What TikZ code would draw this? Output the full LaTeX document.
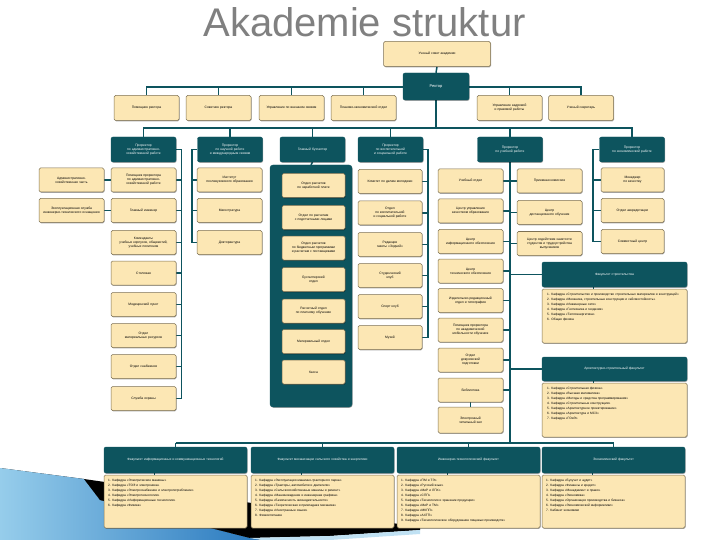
\documentclass[tikz,border=0pt]{standalone}
\usepackage{fontspec}
\setmainfont{Liberation Sans}
\usetikzlibrary{shadows}
\pgfdeclarelayer{deco}
\pgfdeclarelayer{background}
\pgfsetlayers{deco,background,main}
\definecolor{teal1}{RGB}{13,84,94}
\definecolor{ybox}{RGB}{252,231,180}
\definecolor{yborder}{RGB}{125,112,82}
\definecolor{ttl}{RGB}{128,128,128}
\definecolor{sw1}{RGB}{40,120,190}
\definecolor{sw2}{RGB}{150,205,235}
\begin{document}
\begin{tikzpicture}[x=1pt,y=-1pt,
  box/.style={draw=yborder, line width=0.5pt, fill=ybox, rounded corners=1.5pt, align=center,
    font=\fontsize{3.3}{4}\selectfont, inner sep=1pt,
    drop shadow={shadow xshift=0.6pt, shadow yshift=-0.8pt, opacity=0.35, fill=black}},
  wb/.style={box, minimum width=65pt, minimum height=24pt, text width=61pt},
  tb/.style={draw=teal1, fill=teal1, text=white, rounded corners=2pt, align=center,
    font=\fontsize{3.3}{4}\selectfont, inner sep=1pt,
    drop shadow={shadow xshift=0.6pt, shadow yshift=-0.8pt, opacity=0.35, fill=black}},
  pb/.style={tb, minimum width=65pt, minimum height=25pt, text width=61pt},
  fh/.style={tb, minimum width=143pt, minimum height=26pt, text width=136pt},
  fb/.style={box, minimum width=143pt, minimum height=54pt},
  lst/.style={anchor=north west, align=left, text width=134pt, font=\fontsize{3.2}{5}\selectfont, inner sep=0pt},
  ln/.style={draw=teal1, line width=1.5pt},
  tk/.style={draw=teal1, line width=1pt}
]
\useasboundingbox (0,0) rectangle (720,540);

% title
\node[text=ttl, font=\fontsize{40}{40}\selectfont] (title) at (364.5,22.5) {Akademie struktur};

% top
\node[box, minimum width=107pt, minimum height=25pt] (sovet) at (437,54) {Ученый совет академии};
\node[tb, minimum width=66pt, minimum height=27pt, font=\fontsize{4}{5}\selectfont] (rector) at (436,86.5) {Ректор};

% row 2
\node[wb, minimum height=25pt] (r1) at (146.5,108) {Помощник ректора};
\node[wb, minimum height=25pt] (r2) at (218.5,108) {Советник ректора};
\node[wb, minimum height=25pt] (r3) at (291.5,108) {Управление по внешним связям};
\node[wb, minimum height=25pt] (r4) at (363.5,108) {Планово-экономический отдел};
\node[wb, minimum height=25pt] (r5) at (509.5,108) {Управление кадровой\\и правовой работы};
\node[wb, minimum height=25pt] (r6) at (581,108) {Ученый секретарь};

% row 3 prorectors
\node[pb] (pA) at (143.5,149.5) {Проректор\\по административно-\\хозяйственной работе};
\node[pb] (pB) at (230,149.5) {Проректор\\по научной работе\\и международным связям};
\node[pb] (pC) at (312.5,149.5) {Главный бухгалтер};
\node[pb] (pD) at (390.5,149.5) {Проректор\\по воспитательной\\и социальной работе};
\node[pb] (pE) at (510,149.5) {Проректор\\по учебной работе};
\node[pb] (pF) at (632,149.5) {Проректор\\по экономической работе};

% column A
\node[wb] (l1) at (71.5,180) {Административно-\\хозяйственная часть};
\node[wb] (l2) at (71.5,210.5) {Эксплуатационная служба\\инженерно-технического оснащения};
\node[wb] (a1) at (143.5,180) {Помощник проректора\\по административно-\\хозяйственной работе};
\node[wb] (a2) at (143.5,210.5) {Главный инженер};
\node[wb] (a3) at (143.5,242.5) {Коменданты\\учебных корпусов, общежитий,\\учебных полигонов};
\node[wb] (a4) at (143.5,273) {Столовая};
\node[wb] (a5) at (143.5,304.5) {Медицинский пункт};
\node[wb] (a6) at (143.5,335.5) {Отдел\\материальных ресурсов};
\node[wb] (a7) at (143.5,366.5) {Отдел снабжения};
\node[wb] (a8) at (143.5,398.5) {Служба охраны};

% column B
\node[wb] (b1) at (229.5,180) {Институт\\послевузовского образования};
\node[wb] (b2) at (229.5,210.5) {Магистратура};
\node[wb] (b3) at (229.5,242.5) {Докторантура};

% column C container
\node[draw=teal1, fill=teal1, rounded corners=3pt, minimum width=82pt, minimum height=242pt, inner sep=0pt,
  drop shadow={shadow xshift=0.6pt, shadow yshift=-0.8pt, opacity=0.35, fill=black}] (cont) at (311,286) {};
\node[wb, minimum width=63pt, text width=60pt] (c1) at (313.5,185.5) {Отдел расчетов\\по заработной плате};
\node[wb, minimum width=63pt, text width=60pt] (c2) at (313.5,217.5) {Отдел по расчетам\\с подотчетными лицами};
\node[wb, minimum width=63pt, text width=60pt] (c3) at (313.5,248) {Отдел расчетов\\по бюджетным программам\\и расчетам с поставщиками};
\node[wb, minimum width=63pt, text width=60pt] (c4) at (313.5,279.5) {Бухгалтерский\\отдел};
\node[wb, minimum width=63pt, text width=60pt] (c5) at (313.5,311) {Расчетный отдел\\по платному обучению};
\node[wb, minimum width=63pt, text width=60pt] (c6) at (313.5,341.5) {Материальный отдел};
\node[wb, minimum width=63pt, text width=60pt] (c7) at (313.5,372) {Касса};

% column D
\node[wb, minimum width=64pt] (d1) at (390,181.5) {Комитет по делам молодежи};
\node[wb, minimum width=64pt] (d2) at (390,213) {Отдел\\по воспитательной\\и социальной работе};
\node[wb, minimum width=64pt] (d3) at (390,244.5) {Редакция\\газеты <<Зодчий>>};
\node[wb, minimum width=64pt] (d4) at (390,275.5) {Студенческий\\клуб};
\node[wb, minimum width=64pt] (d5) at (390,306.5) {Спорт клуб};
\node[wb, minimum width=64pt] (d6) at (390,337.5) {Музей};

% column E
\node[wb] (e1) at (470.5,181) {Учебный отдел};
\node[wb] (e2) at (470.5,211) {Центр управления\\качеством образования};
\node[wb] (e3) at (470.5,241.5) {Центр\\информационного обеспечения};
\node[wb] (e4) at (470.5,271) {Центр\\технического обеспечения};
\node[wb] (e5) at (470.5,300.5) {Издательско-редакционный\\отдел и типография};
\node[wb] (e6) at (470.5,330) {Помощник проректора\\по академической\\мобильности обучения};
\node[wb] (e7) at (470.5,360) {Отдел\\довузовской\\подготовки};
\node[wb] (e8) at (470.5,390) {Библиотека};
\node[wb, minimum height=26pt] (e9) at (470.5,420) {Электронный\\читальный зал};
\node[wb] (er1) at (549.5,181) {Приемная комиссия};
\node[wb] (er2) at (549.5,212.5) {Центр\\дистанционного обучения};
\node[wb] (er3) at (549.5,243.5) {Центр содействия занятости\\студентов и трудоустройства\\выпускников};

% column F
\node[wb, minimum width=63pt] (f1) at (632.5,180) {Менеджер\\по качеству};
\node[wb, minimum width=63pt] (f2) at (632.5,210.5) {Отдел аккредитации};
\node[wb, minimum width=63pt] (f3) at (632.5,241.5) {Совместный центр};

% right faculties
\node[fh, minimum width=145pt, minimum height=25pt] (fh1) at (614.5,274.5) {Факультет строительства};
\node[fb, minimum width=145pt] (fb1) at (614.5,316) {};
\node[lst] (fb1t) at (547,293) {1. Кафедра «Строительство и производство строительных материалов и конструкций»\\
2. Кафедра «Механика, строительные конструкции и сейсмостойкость»\\
3. Кафедра «Инженерные сети»\\
4. Кафедра «Геотехника и геодезия»\\
5. Кафедра «Теплоэнергетика»\\
6. Общая физика};
\node[fh, minimum width=145pt, minimum height=24pt] (fh2) at (614.5,369) {Архитектурно-строительный факультет};
\node[fb, minimum width=145pt] (fb2) at (614.5,410) {};
\node[lst] (fb2t) at (547,387) {1. Кафедра «Строительная физика»\\
2. Кафедра «Высшая математика»\\
3. Кафедра «Методы и средства программирования»\\
4. Кафедра «Строительные конструкции»\\
5. Кафедра «Архитектурное проектирование»\\
6. Кафедра «Архитектура и МСЗ»\\
7. Кафедра «ГОиЭ»};

% bottom faculties
\node[fh] (bh1) at (175.5,460) {Факультет информационных и коммуникационных технологий};
\node[fh] (bh2) at (322.5,460) {Факультет механизации сельского хозяйства и энергетики};
\node[fh] (bh3) at (468.5,460) {Инженерно-технологический факультет};
\node[fh] (bh4) at (613.5,460) {Экономический факультет};
\node[fb, minimum height=53pt] (bb1) at (175.5,501.5) {};
\node[fb, minimum height=53pt] (bb2) at (322.5,501.5) {};
\node[fb, minimum height=53pt] (bb3) at (468.5,501.5) {};
\node[fb, minimum height=53pt] (bb4) at (613.5,501.5) {};
\node[lst] (bb1t) at (108,479) {1. Кафедра «Электрические машины»\\
2. Кафедра «ТОЭ и электроника»\\
3. Кафедра «Электроснабжение и электропотребление»\\
4. Кафедра «Электротехнологии»\\
5. Кафедра «Информационные технологии»\\
6. Кафедра «Физика»};
\node[lst] (bb2t) at (255,479) {1. Кафедра «Эксплуатация машинно-тракторного парка»\\
2. Кафедра «Тракторы, автомобили и двигатели»\\
3. Кафедра «Сельскохозяйственные машины и ремонт»\\
4. Кафедра «Машиноведение и инженерная графика»\\
5. Кафедра «Безопасность жизнедеятельности»\\
6. Кафедра «Теоретическая и прикладная механика»\\
7. Кафедра «Иностранные языки»\\
8. Физвоспитание};
\node[lst] (bb3t) at (401,479) {1. Кафедра «ПМ и ТЭ»\\
2. Кафедра «Русский язык»\\
3. Кафедра «МиР и ЛПХ»\\
4. Кафедра «СПП»\\
5. Кафедра «Технология и хранение продукции»\\
6. Кафедра «МиР и ТМ»\\
7. Кафедра «МКПП»\\
8. Кафедра «АХТП»\\
9. Кафедра «Технологическое оборудование пищевых производств»};
\node[lst] (bb4t) at (546,479) {1. Кафедра «Бухучет и аудит»\\
2. Кафедра «Финансы и кредит»\\
3. Кафедра «Менеджмент и право»\\
4. Кафедра «Экономика»\\
5. Кафедра «Организация производства и бизнеса»\\
6. Кафедра «Экономической информатики»\\
7. Кабинет экономики};

% named coordinates for bus lines
\coordinate (h2) at (0,87);
\coordinate (h3) at (0,128);
\coordinate (hb) at (0,443);
\coordinate (vA) at (181.5,0);
\coordinate (vB) at (192,0);
\coordinate (vD) at (428,0);
\coordinate (vF) at (593,0);

\begin{pgfonlayer}{background}
\draw[ln] (sovet.south) -- (rector.north);
\draw[ln] (r1.north) -- (r1.north |- h2) -- (r6.north |- h2) -- (r6.north);
\foreach \n in {r2,r3,r4,r5} \draw[ln] (\n.north) -- (\n.north |- h2);
\draw[ln] (rector.south) -- (rector.south |- h3);
\draw[ln] (pA.north) -- (pA.north |- h3) -- (pF.north |- h3) -- (pF.north);
\foreach \n in {pB,pC,pD,pE} \draw[ln] (\n.north) -- (\n.north |- h3);
% column A
\draw[ln] (pA.east) -| (a8.east -| vA);
\foreach \n in {a1,a2,a3,a4,a5,a6,a7,a8} \draw[ln] (\n.east) -- (\n.east -| vA);
\draw[ln] (l1.east) -- (a1.west);
\draw[ln] (l2.east) -- (a2.west);
% column B
\draw[ln] (pB.west) -| (b3.west -| vB);
\foreach \n in {b1,b2,b3} \draw[ln] (\n.west) -- (\n.west -| vB);
% column C
\draw[ln] (pC.south) -- (cont.north);
% column D
\draw[ln] (pD.east) -| (d6.east -| vD);
\foreach \n in {d1,d2,d3,d4,d5,d6} \draw[ln] (\n.east) -- (\n.east -| vD);
% column E
\draw[ln] (pE.south) -- (pE.south |- hb);
\foreach \n in {e1,e2,e3,e4,e5,e6,e7,e8} \draw[ln] (\n.east) -- (\n.east -| pE.south);
\foreach \n in {er1,er2,er3} \draw[ln] (\n.west) -- (\n.west -| pE.south);
\draw[tk] (e8.south) -- (e9.north);
\draw[ln] (fh1.west -| pE.south) -- (fh1.west);
\draw[ln] (fh2.west -| pE.south) -- (fh2.west);
\draw[tk] ([xshift=-21pt]fh1.south) -- ([xshift=-21pt]fb1.north);
\draw[tk] ([xshift=-21pt]fh2.south) -- ([xshift=-21pt]fb2.north);
% column F
\draw[ln] (pF.west) -| (f3.west -| vF);
\foreach \n in {f1,f2,f3} \draw[ln] (\n.west) -- (\n.west -| vF);
% bottom bus
\draw[ln] (bh1.north |- hb) -- (bh4.north |- hb);
\foreach \n in {bh1,bh2,bh3,bh4} \draw[ln] (\n.north |- hb) -- (\n.north);
\foreach \n in {1,2,3,4} \draw[tk] ([xshift=-21pt]bh\n.south) -- ([xshift=-21pt]bb\n.north);
\end{pgfonlayer}

% slide decoration (bottom-left swoosh), behind the chart
\begin{pgfonlayer}{deco}
\fill[left color=sw2, right color=sw1] (0,468) -- (84,479) -- (100,500) -- (250,538) -- (262,540) -- (0,540) -- cycle;
\fill[black] (84,479) -- (420,527) -- (420,530) -- (330,536) -- (250,538) -- (100,500) -- cycle;
\fill[sw2!60] (250,538) -- (330,536) -- (420,530) -- (420,534) -- (330,540) -- (262,540) -- cycle;
\end{pgfonlayer}
\end{tikzpicture}
\end{document}
